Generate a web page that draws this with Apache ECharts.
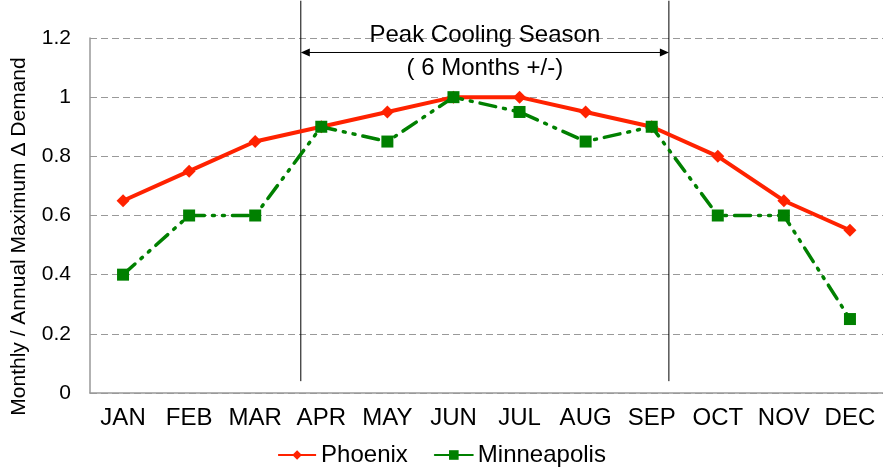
<!DOCTYPE html>
<html>
<head>
<meta charset="utf-8">
<script src="https://cdn.jsdelivr.net/npm/echarts@6/dist/echarts.min.js"></script>
<style>html,body{margin:0;padding:0;background:#fff;}#c{width:883px;height:474px;}</style>
</head>
<body>
<div id="c"></div>
<script>
const months = ['JAN','FEB','MAR','APR','MAY','JUN','JUL','AUG','SEP','OCT','NOV','DEC'];
const phoenix = [0.65,0.75,0.85,0.9,0.95,1.0,1.0,0.95,0.9,0.8,0.65,0.55];
const minneapolis = [0.4,0.6,0.6,0.9,0.85,1.0,0.95,0.85,0.9,0.6,0.6,0.25];
const yTicks = [0,0.2,0.4,0.6,0.8,1,1.2];
// annotation: peak cooling season bracket (in month-band units, value units)
const seasonBounds = [3.19, 8.76];
const seasonLineY = [0.04, 1.326];
const seasonArrowY = 1.151;
const seasonText1 = ['Peak Cooling Season', 1.208];
const seasonText2 = ['( 6 Months +/-)', 1.099];

const FONT = 'Liberation Sans, Arial, sans-serif';
const chart = echarts.init(document.getElementById('c'));
chart.setOption({
  animation: false,
  backgroundColor: '#fff',
  grid: {left: 90, right: 0, top: 38, bottom: 81, containLabel: false},
  legend: {
    bottom: 2, left: 'center', itemWidth: 38, itemHeight: 12, itemGap: 26,
    textStyle: {fontFamily: FONT, fontSize: 24, color: '#000'},
    lineStyle: {type: 'solid'},
    data: ['Phoenix','Minneapolis']
  },
  xAxis: [{
    type: 'category', data: months, boundaryGap: true,
    axisLine: {lineStyle: {color: '#999', width: 1.5}},
    axisTick: {show: false},
    axisLabel: {fontFamily: FONT, fontSize: 24, color: '#000', margin: 13, interval: 0}
  }, {
    type: 'value', min: 0, max: 12, show: false
  }],
  yAxis: {
    type: 'value', min: 0, max: 1.2, interval: 0.2,
    name: 'Monthly / Annual Maximum \u0394 Demand',
    nameLocation: 'middle', nameGap: 60,
    nameTextStyle: {fontFamily: FONT, fontSize: 21, color: '#000', padding: [0, 42, 0, 0]},
    axisLine: {show: true, lineStyle: {color: '#999', width: 1.5}},
    axisTick: {show: false},
    axisLabel: {fontFamily: FONT, fontSize: 21, color: '#000', margin: 19,
      formatter: v => { const t = yTicks.find(x => Math.abs(x - v) < 1e-9); return String(+(t ?? v).toFixed(1)); }},
    splitLine: {lineStyle: {color: '#999', type: [7, 4], width: 1}}
  },
  series: [{
    name: 'Phoenix', type: 'line', data: phoenix,
    symbol: 'diamond', symbolSize: 13,
    itemStyle: {color: '#ff2200'},
    lineStyle: {color: '#ff2200', width: 4},
    z: 3
  }, {
    name: 'Minneapolis', type: 'line', data: minneapolis,
    symbol: 'rect', symbolSize: 12,
    itemStyle: {color: '#008000'},
    lineStyle: {color: '#008000', width: 3.5, type: [16, 8, 2, 8, 2, 8], cap: 'round'},
    z: 4
  }, {
    type: 'custom', xAxisIndex: 1, yAxisIndex: 0, clip: false, silent: true,
    data: [[0]], z: 2,
    renderItem: function (params, api) {
      const l0 = api.coord([seasonBounds[0], seasonLineY[0]]);
      const l1 = api.coord([seasonBounds[0], seasonLineY[1]]);
      const r0 = api.coord([seasonBounds[1], seasonLineY[0]]);
      const r1 = api.coord([seasonBounds[1], seasonLineY[1]]);
      const aL = api.coord([seasonBounds[0], seasonArrowY]);
      const aR = api.coord([seasonBounds[1], seasonArrowY]);
      const midX = (aL[0] + aR[0]) / 2;
      const t1 = api.coord([0, seasonText1[1]]);
      const t2 = api.coord([0, seasonText2[1]]);
      const ls = {stroke: '#000', lineWidth: 1};
      return {
        type: 'group',
        children: [
          {type: 'line', shape: {x1: l0[0], y1: l0[1], x2: l1[0], y2: l1[1]}, style: ls},
          {type: 'line', shape: {x1: r0[0], y1: r0[1], x2: r1[0], y2: r1[1]}, style: ls},
          {type: 'line', shape: {x1: aL[0] + 4, y1: aL[1], x2: aR[0] - 4, y2: aR[1]}, style: ls},
          {type: 'polygon', shape: {points: [[aL[0], aL[1]], [aL[0] + 9, aL[1] - 4], [aL[0] + 9, aL[1] + 4]]}, style: {fill: '#000'}},
          {type: 'polygon', shape: {points: [[aR[0], aR[1]], [aR[0] - 9, aR[1] - 4], [aR[0] - 9, aR[1] + 4]]}, style: {fill: '#000'}},
          {type: 'text', style: {text: seasonText1[0], x: midX, y: t1[1], align: 'center', verticalAlign: 'middle',
            fontFamily: FONT, fontSize: 24, fill: '#000'}},
          {type: 'text', style: {text: seasonText2[0], x: midX, y: t2[1], align: 'center', verticalAlign: 'middle',
            fontFamily: FONT, fontSize: 24, fill: '#000'}}
        ]
      };
    }
  }]
});
</script>
</body>
</html>
